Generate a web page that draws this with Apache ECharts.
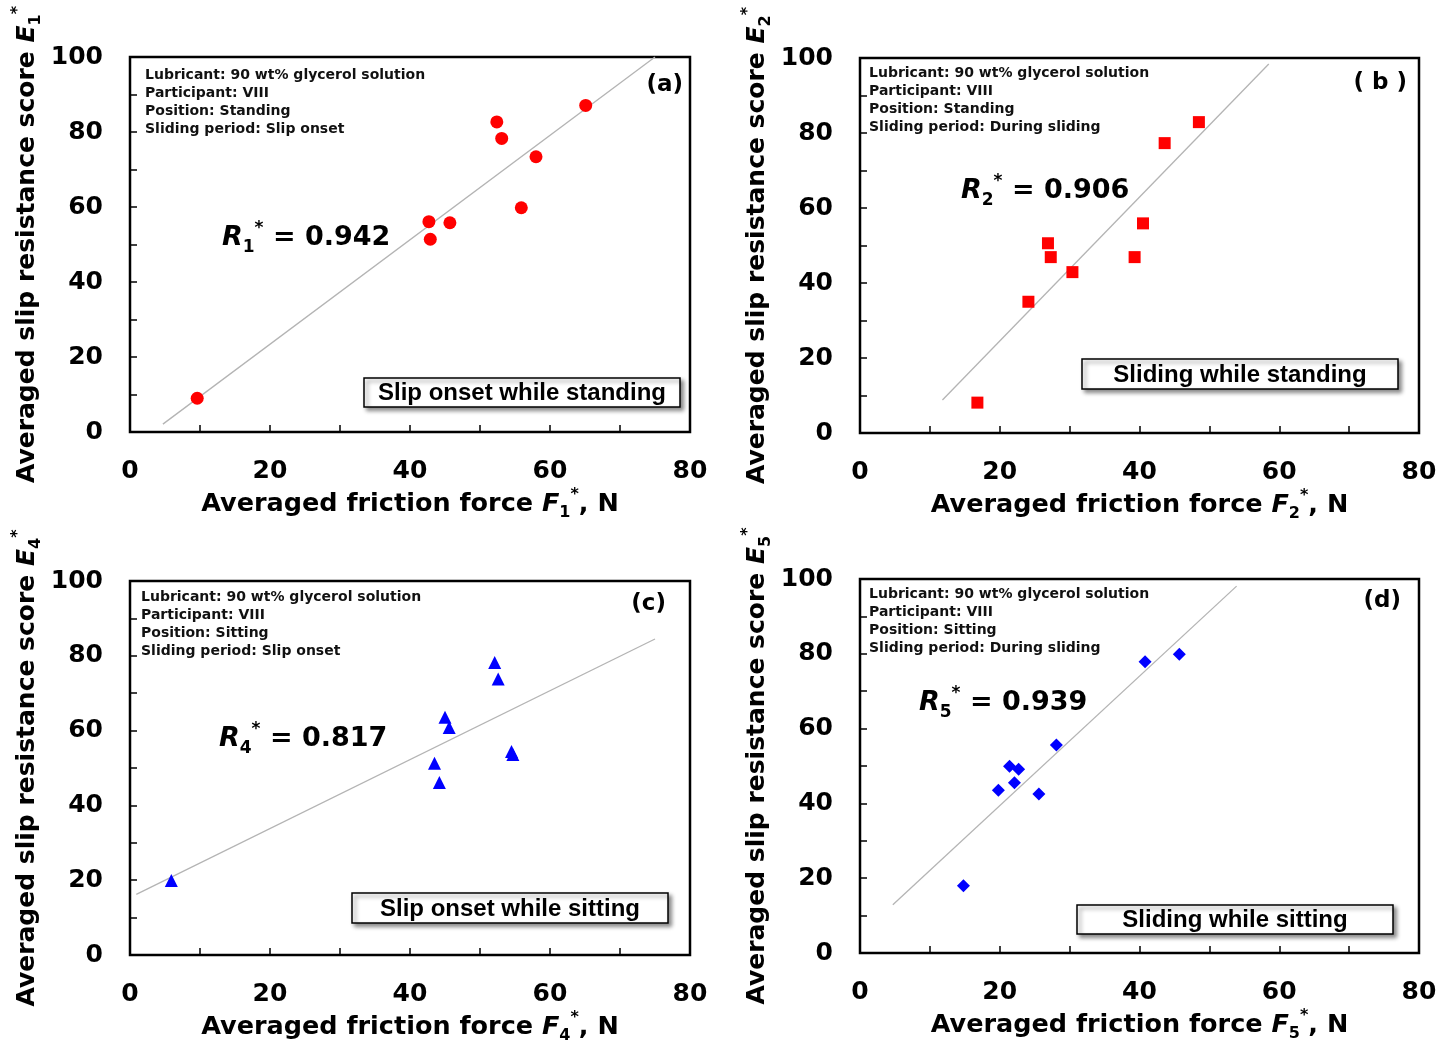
<!DOCTYPE html>
<html>
<head>
<meta charset="utf-8">
<title>Slip resistance vs friction force</title>
<script src="https://cdn.jsdelivr.net/npm/echarts@6/dist/echarts.min.js"></script>
<style>
  html, body { margin: 0; padding: 0; background: #fff; }
  #container { width: 1453px; height: 1044px; }
</style>
</head>
<body>
<div id="container"></div>
<script>
// data: [friction force N, slip resistance score]
const pointsA = [[9.6, 9.0], [42.7, 56.1], [42.9, 51.4], [45.7, 55.8], [52.4, 82.7], [53.1, 78.3], [55.9, 59.8], [58.0, 73.4], [65.1, 87.1]];
const pointsB = [[16.8, 8.1], [24.1, 35.0], [26.9, 50.6], [27.3, 46.9], [30.4, 42.9], [39.3, 46.9], [40.5, 55.9], [43.6, 77.3], [48.5, 82.9]];
const pointsC = [[5.9, 19.9], [43.5, 51.3], [44.2, 46.1], [45.0, 63.6], [45.6, 60.8], [52.1, 78.2], [52.6, 73.8], [54.7, 53.6], [54.5, 54.4]];
const pointsD = [[14.8, 18.0], [19.8, 43.5], [21.4, 49.9], [22.1, 45.5], [22.7, 49.1], [25.6, 42.5], [28.1, 55.6], [40.8, 77.9], [45.7, 79.9]];

// regression line end points
const fitA = [[4.7, 2.1], [75, 100]];
const fitB = [[11.8, 8.8], [58.5, 98.4]];
const fitC = [[0.9, 16.2], [75, 84.5]];
const fitD = [[4.7, 12.9], [53.9, 98.1]];

const xTicks = [0, 20, 40, 60, 80];
const yTicks = [0, 20, 40, 60, 80, 100];

const indices = ["1", "2", "4", "5"];
const rValues = ["0.942", "0.906", "0.817", "0.939"];
const panelTags = ["(a)", "( b )", "(c)", "(d)"];
const boxLabels = ["Slip onset while standing", "Sliding while standing", "Slip onset while sitting", "Sliding while sitting"];
const infoLines = [
  ["Lubricant: 90 wt% glycerol solution", "Participant: VIII", "Position: Standing", "Sliding period: Slip onset"],
  ["Lubricant: 90 wt% glycerol solution", "Participant: VIII", "Position: Standing", "Sliding period: During sliding"],
  ["Lubricant: 90 wt% glycerol solution", "Participant: VIII", "Position: Sitting", "Sliding period: Slip onset"],
  ["Lubricant: 90 wt% glycerol solution", "Participant: VIII", "Position: Sitting", "Sliding period: During sliding"],
];

const allPoints = [pointsA, pointsB, pointsC, pointsD];
const allFits = [fitA, fitB, fitC, fitD];

// layout / style per panel
const FONT = '"DejaVu Sans", Verdana, sans-serif';
const panels = [
  { grid: { left: 130, top: 57, width: 560, height: 375 }, symbol: "circle", size: 13, color: "#ff0000",
    info: [15, 9], tag: [683, 85], r: [222, 238], box: [364, 378, 316, 29] },
  { grid: { left: 860, top: 58, width: 559, height: 375 }, symbol: "rect", size: 12, color: "#ff0000",
    info: [9, 6], tag: [1407, 83], r: [961, 191], box: [1082, 359, 316, 30] },
  { grid: { left: 130, top: 581, width: 560, height: 374 }, symbol: "triangle", size: 13, color: "#0000ff",
    info: [11, 7], tag: [666, 604], r: [219, 739], box: [352, 893, 316, 30] },
  { grid: { left: 860, top: 579, width: 559, height: 374 }, symbol: "diamond", size: 13, color: "#0000ff",
    info: [9, 6], tag: [1401, 601], r: [919, 703], box: [1077, 905, 316, 29] },
];

const makeRich = (size, subSize, lh) => ({
  b: { fontSize: size, fontWeight: "bold", fontFamily: FONT, color: "#000", lineHeight: lh },
  i: { fontSize: size, fontWeight: "bold", fontStyle: "italic", fontFamily: FONT, color: "#000", lineHeight: lh },
  sub: { fontSize: subSize, fontWeight: "bold", fontFamily: FONT, color: "#000", lineHeight: subSize, verticalAlign: "bottom" },
  sup: { fontSize: subSize, fontWeight: "bold", fontFamily: FONT, color: "#000", lineHeight: subSize, verticalAlign: "top" },
});

const xTitleRich = makeRich(25.5, 16, 34);
const yTitleRich = makeRich(25, 16, 34);

const tickLabel = (v) => (yTicks.includes(v) || xTicks.includes(v)) && v % 20 === 0 ? String(v) : "";

const grids = [];
const xAxes = [];
const yAxes = [];
const series = [];
const graphic = [];

panels.forEach((p, k) => {
  grids.push({
    ...p.grid,
    show: true,
    borderColor: "#000",
    borderWidth: 2.5,
    containLabel: false,
    outerBoundsMode: "none",
  });

  const axisCommon = {
    type: "value",
    gridIndex: k,
    interval: 10,
    min: 0,
    axisLine: { show: false },
    axisTick: { show: true, inside: true, length: 7, lineStyle: { color: "#000", width: 1.5 } },
    splitLine: { show: false },
    axisLabel: {
      formatter: tickLabel,
      fontSize: 25,
      fontWeight: "bold",
      fontFamily: FONT,
      color: "#000",
      margin: 27,
    },
    nameLocation: "middle",
  };

  xAxes.push({
    ...axisCommon,
    max: 80,
    name: "{b|Averaged friction force }{i|F}{sub|" + indices[k] + "}{sup|*}{b|, N}",
    nameGap: 55,
    nameTextStyle: { rich: xTitleRich },
  });
  yAxes.push({
    ...axisCommon,
    max: 100,
    name: "{b|Averaged slip resistance score }{i|E}{sub|" + indices[k] + "}{sup|*}",
    nameGap: 86,
    nameTextStyle: { rich: yTitleRich },
  });

  series.push({
    type: "line",
    xAxisIndex: k,
    yAxisIndex: k,
    data: allFits[k],
    symbol: "none",
    silent: true,
    lineStyle: { color: "#b4b4b4", width: 1.3 },
    z: 2,
  });
  series.push({
    type: "scatter",
    name: boxLabels[k],
    xAxisIndex: k,
    yAxisIndex: k,
    data: allPoints[k],
    symbol: p.symbol,
    symbolSize: p.size,
    itemStyle: { color: p.color, opacity: 1 },
    z: 3,
  });

  // condition notes, top-left of plot
  graphic.push({
    type: "text",
    x: p.grid.left + p.info[0],
    y: p.grid.top + p.info[1],
    z: 10,
    style: {
      text: infoLines[k].join("\n"),
      fontSize: 14,
      fontWeight: "bold",
      fontFamily: FONT,
      lineHeight: 18,
      fill: "#111",
    },
  });

  // panel tag
  graphic.push({
    type: "text",
    x: p.tag[0],
    y: p.tag[1],
    z: 10,
    style: {
      text: panelTags[k],
      fontSize: 23,
      fontWeight: "bold",
      fontFamily: FONT,
      fill: "#000",
      align: "right",
      verticalAlign: "middle",
    },
  });

  // correlation coefficient
  graphic.push({
    type: "text",
    x: p.r[0],
    y: p.r[1],
    z: 10,
    style: {
      text: "{i|R}{sub|" + indices[k] + "}{sup|*}{b| = " + rValues[k] + "}",
      verticalAlign: "middle",
      rich: {
        b: { fontSize: 27, fontWeight: "bold", fontFamily: FONT, fill: "#000", lineHeight: 36 },
        i: { fontSize: 27, fontWeight: "bold", fontStyle: "italic", fontFamily: FONT, fill: "#000", lineHeight: 36 },
        sub: { fontSize: 17, fontWeight: "bold", fontFamily: FONT, fill: "#000", lineHeight: 17, verticalAlign: "bottom" },
        sup: { fontSize: 17, fontWeight: "bold", fontFamily: FONT, fill: "#000", lineHeight: 17, verticalAlign: "top" },
      },
    },
  });

  // boxed condition label with drop shadow
  const [bx, by, bw, bh] = p.box;
  graphic.push({
    type: "group",
    x: bx,
    y: by,
    z: 10,
    children: [
      {
        type: "rect",
        shape: { x: 0, y: 0, width: bw, height: bh },
        style: {
          fill: "#fff",
          stroke: "#000",
          lineWidth: 1.5,
          shadowBlur: 4,
          shadowOffsetX: 3,
          shadowOffsetY: 3,
          shadowColor: "rgba(0,0,0,0.45)",
        },
      },
      {
        type: "text",
        x: bw / 2,
        y: bh / 2 + 1,
        style: {
          text: boxLabels[k],
          fontSize: 24,
          fontWeight: "bold",
          fontFamily: '"Liberation Sans", Arial, sans-serif',
          fill: "#000",
          align: "center",
          verticalAlign: "middle",
        },
      },
    ],
  });
});

const dom = document.getElementById("container");
const myChart = echarts.init(dom, null, { renderer: "canvas" });

myChart.setOption({
  backgroundColor: "#FFFFFF",
  animation: false,
  grid: grids,
  xAxis: xAxes,
  yAxis: yAxes,
  series: series,
  graphic: graphic,
});
</script>
</body>
</html>
